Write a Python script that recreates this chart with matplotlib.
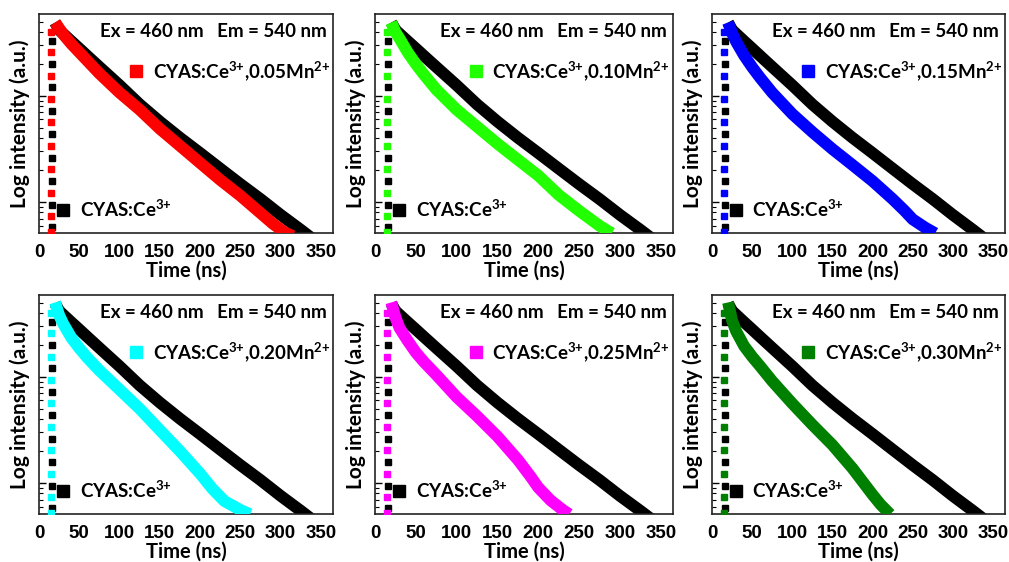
import matplotlib
matplotlib.use("Agg")
import matplotlib.pyplot as plt
from matplotlib.lines import Line2D
from matplotlib.ticker import LogLocator, NullFormatter

plt.rcParams['font.family'] = ['Lato', 'DejaVu Sans']
plt.rcParams['mathtext.fontset'] = 'custom'
plt.rcParams['mathtext.rm'] = 'Lato:bold'
plt.rcParams['mathtext.bf'] = 'Lato:bold'
plt.rcParams['mathtext.it'] = 'Lato:bold'

# ---- data ----
# reference sample CYAS:Ce3+ (black, same in every panel)
ref_time = [20, 25, 30, 40, 50, 60, 75, 100, 125, 150, 175, 200, 225, 250, 275, 300, 325, 340]
ref_counts = [4898, 4169, 3846, 3273, 2793, 2377, 1871, 1259, 832, 573, 404, 290, 207, 148, 107, 76, 55, 45]
ref_rise_time = [16.5] * 9
ref_rise_counts = [58, 95, 158, 263, 437, 724, 1202, 1995, 3311]

rise_time = [14.5] * 10
rise_counts = [52, 74, 123, 204, 339, 562, 933, 1549, 2570, 3981]

labels = ["0.05", "0.10", "0.15", "0.20", "0.25", "0.30"]
colors = ["#ff0000", "#22ff00", "#0000ff", "#00ffff", "#ff00ff", "#008000"]

mn005_time = [20, 30, 40, 50, 60, 75, 100, 125, 150, 175, 200, 225, 250, 275, 290, 305, 315]
mn005_counts = [4898, 3802, 3090, 2570, 2138, 1622, 1072, 741, 490, 339, 234, 162, 115, 79, 63, 52, 48]

mn010_time = [20, 25, 30, 40, 50, 60, 75, 100, 125, 150, 175, 200, 225, 250, 275, 290]
mn010_counts = [4898, 3981, 3467, 2570, 1995, 1585, 1148, 741, 513, 355, 251, 178, 117, 83, 60, 51]

mn015_time = [20, 25, 30, 40, 50, 60, 75, 100, 125, 150, 175, 200, 225, 240, 250, 265, 278]
mn015_counts = [4898, 3890, 3236, 2399, 1862, 1479, 1072, 676, 457, 316, 224, 158, 107, 83, 69, 58, 51]

mn020_time = [20, 25, 30, 40, 50, 60, 75, 100, 125, 150, 175, 200, 215, 230, 250, 262]
mn020_counts = [5012, 3802, 3162, 2344, 1862, 1514, 1148, 759, 501, 316, 200, 123, 89, 68, 56, 51]

mn025_time = [20, 25, 30, 40, 50, 60, 75, 100, 125, 150, 175, 190, 200, 215, 230, 238]
mn025_counts = [5012, 3631, 2884, 2188, 1698, 1380, 1047, 646, 427, 275, 166, 117, 91, 69, 56, 51]

mn030_time = [20, 25, 30, 40, 50, 60, 75, 100, 125, 150, 175, 190, 200, 210, 222]
mn030_counts = [5012, 3388, 2692, 1950, 1549, 1259, 912, 562, 355, 229, 138, 98, 78, 63, 51]

series_time = [mn005_time, mn010_time, mn015_time, mn020_time, mn025_time, mn030_time]
series_counts = [mn005_counts, mn010_counts, mn015_counts, mn020_counts, mn025_counts, mn030_counts]

x_ticks = [0, 50, 100, 150, 200, 250, 300, 350]

# ---- layout ----
W, H = 1009, 562
fig = plt.figure(figsize=(W / 100, H / 100), dpi=100)
lefts = [39, 375, 712]
rights = [333, 673, 1005]
tops = [14, 295]
bottoms = [233, 514]

TXT = 13.5
for i in range(6):
    r, c = divmod(i, 3)
    ax = fig.add_axes([lefts[c] / W, 1 - bottoms[r] / H,
                       (rights[c] - lefts[c]) / W, (bottoms[r] - tops[r]) / H])
    ax.set_yscale('log')
    ax.set_xlim(0, 365)
    ax.set_ylim(51.3, 5888)

    # reference (black)
    ax.plot(ref_time, ref_counts, color='black', lw=8.5, solid_capstyle='butt',
            solid_joinstyle='round', zorder=2)
    ax.plot(ref_rise_time, ref_rise_counts, ls='none', marker='s', ms=3.8,
            color='black', zorder=3)
    # Mn co-doped
    ax.plot(series_time[i], series_counts[i], color=colors[i], lw=8.5,
            solid_capstyle='butt', solid_joinstyle='round', zorder=3)
    ax.plot(rise_time, rise_counts, ls='none', marker='s', ms=3.8,
            color=colors[i], zorder=3)

    ax.set_xticks(x_ticks)
    ax.tick_params(axis='x', length=0, labelsize=13.5, pad=8)
    for lab in ax.get_xticklabels():
        lab.set_fontweight('bold')
        lab.set_family(['Liberation Sans'])
    ax.yaxis.set_major_locator(LogLocator(base=10, numticks=10))
    ax.yaxis.set_minor_locator(LogLocator(base=10, subs=range(2, 10), numticks=20))
    ax.yaxis.set_major_formatter(NullFormatter())
    ax.yaxis.set_minor_formatter(NullFormatter())
    ax.tick_params(axis='y', which='major', direction='in', length=5, width=1)
    ax.tick_params(axis='y', which='minor', direction='in', length=3, width=0.8)
    for s in ax.spines.values():
        s.set_linewidth(1.2)
        s.set_color('#222222')

    ax.set_xlabel('Time (ns)', fontsize=14.5, fontweight='bold', labelpad=0)
    ax.set_ylabel('Log intensity (a.u.)', fontsize=15, fontweight='bold', labelpad=3)

    ax.text(0.98, 0.918, 'Ex = 460 nm   Em = 540 nm', transform=ax.transAxes,
            ha='right', va='center', fontsize=TXT, fontweight='bold')

    h1 = Line2D([], [], ls='none', marker='s', ms=8, color=colors[i])
    leg1 = ax.legend([h1], [r'CYAS:Ce$^{\text{3+}}$,0.' + labels[i][2:] + r'Mn$^{\text{2+}}$'],
                     loc='center right', bbox_to_anchor=(0.99, 0.74),
                     frameon=False, handlelength=0.8, handletextpad=0.5,
                     borderaxespad=0, borderpad=0, prop={'weight': 'bold', 'size': TXT})
    ax.add_artist(leg1)
    h2 = Line2D([], [], ls='none', marker='s', ms=8, color='black')
    ax.legend([h2], [r'CYAS:Ce$^{\text{3+}}$'], loc='center left',
              bbox_to_anchor=(0.055, 0.11), frameon=False, handlelength=0.8,
              handletextpad=0.5, borderaxespad=0, borderpad=0,
              prop={'weight': 'bold', 'size': TXT})

fig.savefig('out.png', dpi=100)
